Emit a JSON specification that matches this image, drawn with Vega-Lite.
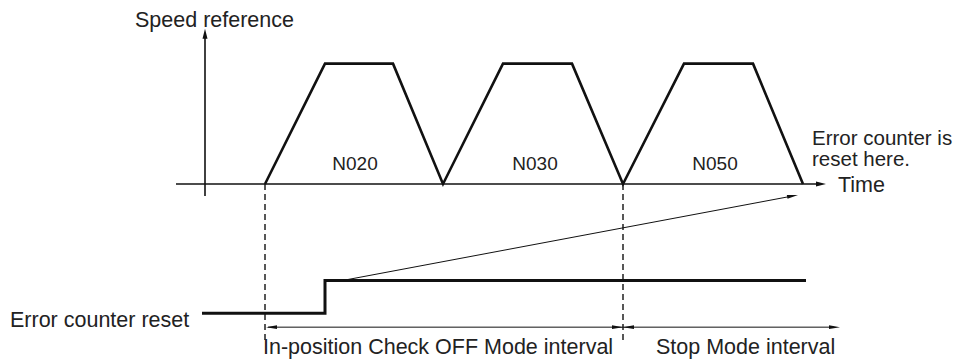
{
  "$schema": "https://vega.github.io/schema/vega-lite/v6.json",
  "width": 962,
  "height": 359,
  "padding": 0,
  "autosize": {"type": "fit", "contains": "padding"},
  "background": "white",
  "config": {"view": {"stroke": null}},
  "datasets": {
    "lines": [
      {"id": "vaxis", "style": "axis", "o": 1, "t": 205, "v": 197},
      {"id": "vaxis", "style": "axis", "o": 2, "t": 205, "v": 36},
      {"id": "haxis", "style": "axis", "o": 1, "t": 176, "v": 185},
      {"id": "haxis", "style": "axis", "o": 2, "t": 818, "v": 185},
      {"id": "speed", "style": "trap", "o": 1, "t": 265, "v": 185},
      {"id": "speed", "style": "trap", "o": 2, "t": 325, "v": 64},
      {"id": "speed", "style": "trap", "o": 3, "t": 393, "v": 64},
      {"id": "speed", "style": "trap", "o": 4, "t": 443, "v": 185},
      {"id": "speed", "style": "trap", "o": 5, "t": 503, "v": 64},
      {"id": "speed", "style": "trap", "o": 6, "t": 572, "v": 64},
      {"id": "speed", "style": "trap", "o": 7, "t": 623, "v": 185},
      {"id": "speed", "style": "trap", "o": 8, "t": 684, "v": 64},
      {"id": "speed", "style": "trap", "o": 9, "t": 753, "v": 64},
      {"id": "speed", "style": "trap", "o": 10, "t": 803, "v": 185},
      {"id": "reset", "style": "signal", "o": 1, "t": 202, "v": 315},
      {"id": "reset", "style": "signal", "o": 2, "t": 325, "v": 315},
      {"id": "reset", "style": "signal", "o": 3, "t": 325, "v": 282},
      {"id": "reset", "style": "signal", "o": 4, "t": 806, "v": 282},
      {"id": "pointer", "style": "thin", "o": 1, "t": 343, "v": 282},
      {"id": "pointer", "style": "thin", "o": 2, "t": 792, "v": 197.2},
      {"id": "interval", "style": "thin", "o": 1, "t": 268, "v": 329},
      {"id": "interval", "style": "thin", "o": 2, "t": 834, "v": 329},
      {"id": "dash1", "style": "dash", "o": 1, "t": 265, "v": 185},
      {"id": "dash1", "style": "dash", "o": 2, "t": 265, "v": 345},
      {"id": "dash2", "style": "dash", "o": 1, "t": 623, "v": 185},
      {"id": "dash2", "style": "dash", "o": 2, "t": 623, "v": 345}
    ],
    "bigArrows": [
      {"t": 205, "v": 29, "angle": 270},
      {"t": 826, "v": 185, "angle": 0}
    ],
    "smallArrows": [
      {"t": 798, "v": 196, "angle": 349.3},
      {"t": 266, "v": 329, "angle": 180},
      {"t": 623, "v": 329, "angle": 0},
      {"t": 623, "v": 329, "angle": 180},
      {"t": 840, "v": 329, "angle": 0}
    ],
    "leftLabels": [
      {"label": "Speed reference", "t": 135, "v": 27},
      {"label": "Error counter reset", "t": 10, "v": 329},
      {"label": "In-position Check OFF Mode interval", "t": 263, "v": 356},
      {"label": "Stop Mode interval", "t": 656, "v": 356},
      {"label": "Time", "t": 838, "v": 193}
    ],
    "noteLabels": [
      {"label": "Error counter is", "t": 812, "v": 146},
      {"label": "reset here.", "t": 812, "v": 167}
    ],
    "centerLabels": [
      {"label": "N020", "t": 355, "v": 171},
      {"label": "N030", "t": 535, "v": 171},
      {"label": "N050", "t": 715, "v": 171}
    ]
  },
  "encoding": {
    "x": {"field": "t", "type": "quantitative", "scale": {"domain": [0, 962], "nice": false, "zero": false}, "axis": null},
    "y": {"field": "v", "type": "quantitative", "scale": {"domain": [0, 359], "nice": false, "zero": false, "reverse": true}, "axis": null}
  },
  "layer": [
    {
      "data": {"name": "lines"},
      "transform": [{"filter": "datum.style === 'axis'"}],
      "mark": {"type": "line", "color": "#111111", "strokeWidth": 1.6, "strokeCap": "butt"},
      "encoding": {"detail": {"field": "id"}, "order": {"field": "o", "type": "quantitative"}}
    },
    {
      "data": {"name": "lines"},
      "transform": [{"filter": "datum.style === 'trap'"}],
      "mark": {"type": "line", "color": "#111111", "strokeWidth": 2.6, "strokeJoin": "miter", "strokeCap": "butt"},
      "encoding": {"detail": {"field": "id"}, "order": {"field": "o", "type": "quantitative"}}
    },
    {
      "data": {"name": "lines"},
      "transform": [{"filter": "datum.style === 'signal'"}],
      "mark": {"type": "line", "color": "#111111", "strokeWidth": 3, "strokeJoin": "miter", "strokeCap": "butt"},
      "encoding": {"detail": {"field": "id"}, "order": {"field": "o", "type": "quantitative"}}
    },
    {
      "data": {"name": "lines"},
      "transform": [{"filter": "datum.style === 'thin'"}],
      "mark": {"type": "line", "color": "#111111", "strokeWidth": 1, "strokeCap": "butt"},
      "encoding": {"detail": {"field": "id"}, "order": {"field": "o", "type": "quantitative"}}
    },
    {
      "data": {"name": "lines"},
      "transform": [{"filter": "datum.style === 'dash'"}],
      "mark": {"type": "line", "color": "#111111", "strokeWidth": 1.4, "strokeDash": [6, 4], "strokeCap": "butt"},
      "encoding": {"detail": {"field": "id"}, "order": {"field": "o", "type": "quantitative"}}
    },
    {
      "data": {"name": "bigArrows"},
      "mark": {"type": "point", "shape": "M0,0L-2,-0.5L-2,0.5Z", "filled": true, "size": 100, "color": "#111111", "opacity": 1, "strokeWidth": 0},
      "encoding": {"angle": {"field": "angle", "type": "quantitative", "scale": null}}
    },
    {
      "data": {"name": "smallArrows"},
      "mark": {"type": "point", "shape": "M0,0L-2,-0.35L-2,0.35Z", "filled": true, "size": 121, "color": "#111111", "opacity": 1, "strokeWidth": 0},
      "encoding": {"angle": {"field": "angle", "type": "quantitative", "scale": null}}
    },
    {
      "data": {"name": "leftLabels"},
      "mark": {"type": "text", "align": "left", "baseline": "alphabetic", "font": "Liberation Sans", "fontSize": 21.5, "color": "#222222"},
      "encoding": {"text": {"field": "label"}}
    },
    {
      "data": {"name": "noteLabels"},
      "mark": {"type": "text", "align": "left", "baseline": "alphabetic", "font": "Liberation Sans", "fontSize": 20.5, "color": "#222222"},
      "encoding": {"text": {"field": "label"}}
    },
    {
      "data": {"name": "centerLabels"},
      "mark": {"type": "text", "align": "center", "baseline": "alphabetic", "font": "Liberation Sans", "fontSize": 19, "color": "#222222"},
      "encoding": {"text": {"field": "label"}}
    }
  ]
}
